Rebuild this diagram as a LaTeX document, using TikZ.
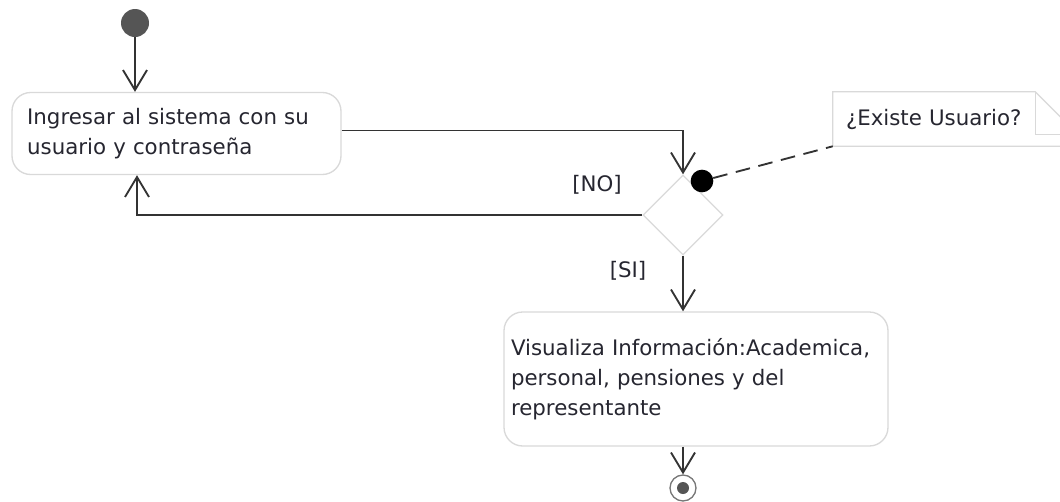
\documentclass[tikz,border=0pt]{standalone}
\usepackage{fontspec}
\setmainfont{DejaVu Sans}
\usepackage{xcolor}
\usepackage{tikz}
\usetikzlibrary{arrows.meta,shapes.geometric}
\definecolor{ink}{HTML}{262630}
\definecolor{wire}{HTML}{333333}
\definecolor{rim}{HTML}{D9D9D9}
\definecolor{knob}{HTML}{555555}
\newcommand{\umltext}{\fontsize{16}{22.5}\selectfont}
\tikzset{
  act/.style={rectangle, rounded corners=14pt, draw=rim, fill=white, line width=1pt,
              align=left, font=\umltext, text=ink},
  gate/.style={diamond, draw=rim, fill=white, line width=1pt, inner sep=0pt,
               minimum width=60pt, minimum height=60pt},
  startnode/.style={circle, fill=knob, inner sep=0pt, minimum size=21pt},
  endnode/.style={circle, draw=knob!80, fill=white, line width=1pt, inner sep=0pt, minimum size=19.5pt},
  pin/.style={circle, fill=black, inner sep=0pt, minimum size=17pt},
  notebox/.style={rectangle, inner xsep=9.75pt, inner ysep=0pt, align=left, text width=164.25pt,
                  minimum height=40.5pt, font=\umltext, text=ink},
  guard/.style={font=\umltext, text=ink},
  flow/.style={-{Straight Barb[length=15pt,width=18pt,line width=1.4pt]}, draw=wire, line width=1.4pt},
  memo/.style={draw=wire, line width=1.4pt, dash pattern=on 11pt off 6.5pt}
}
\begin{document}
\begin{tikzpicture}[x=0.75pt, y=-0.75pt]
 \useasboundingbox (0,0) rectangle (1060,501);
 \clip (0,0) rectangle (1060,501);
 \node[startnode] (init) at (135,23) {};
 \node[act, minimum width=246.75pt, minimum height=61.5pt, inner xsep=11.25pt, text width=224pt]
   (login) at (176.5,133.5) {Ingresar al sistema con su\\usuario y contraseña};
 \node[gate] (check) at (683,215) {};
 \node[pin] (hint) at (702,181) {};
 \node[notebox, fill=white] (note) at (955.5,119) {¿Existe Usuario?};
 \node[act, minimum width=288pt, minimum height=100.5pt, inner xsep=5.25pt, text width=277.5pt]
   (view) at (696,379) {Visualiza Información:Academica,\\personal, pensiones y del\\representante};
 \node[endnode] (final) at (683,488) {};
 \fill[knob] (final) circle (4.5pt);
 \node[guard] (no) at (597,185) {[NO]};
 \node[guard] (si) at (628,271) {[SI]};
 \draw[rim, line width=1pt] (note.south west) -- (note.north west) -- ([xshift=-32.25pt]note.north east)
   -- ([yshift=-32.25pt]note.north east) -- (note.south east) -- cycle;
 \draw[rim, line width=1pt] ([xshift=-32.25pt]note.north east) |- ([yshift=-32.25pt]note.north east);
 \draw[flow] (init) -- (init |- login.north);
 \draw[flow] ([yshift=2.25pt]login.east) -| (check.north);
 \draw[flow] (check.west) -| ([xshift=1.5pt]init |- login.south);
 \draw[flow] (check.south) -- (check |- view.north);
 \draw[flow] (check |- view.south) -- (final);
 \draw[memo] (hint) -- (note.south west);
\end{tikzpicture}
\end{document}
